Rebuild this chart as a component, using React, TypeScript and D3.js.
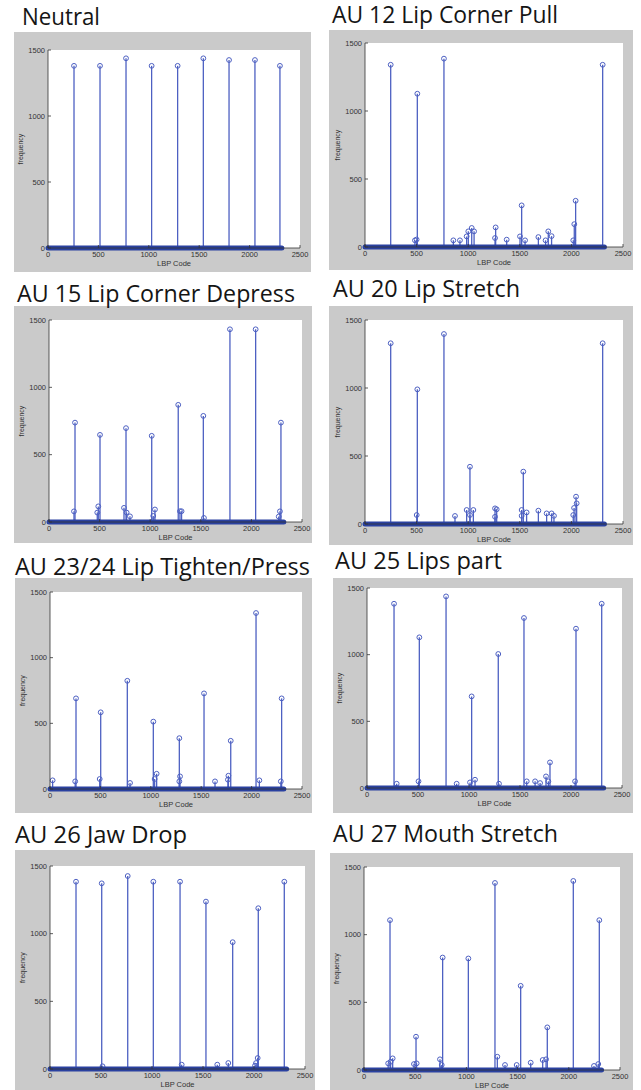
import React from "react";
import * as d3 from "d3";

// stems: [LBP code, frequency]
const neutralStems: [number, number][] = [
  [258, 1380], [516, 1380], [774, 1437], [1028, 1380], [1286, 1380],
  [1541, 1437], [1796, 1424], [2053, 1424], [2301, 1380],
];

const au12Stems: [number, number][] = [
  [249, 1340], [507, 1127], [765, 1385], [2303, 1340], [1518, 306],
  [2041, 340], [2028, 168], [484, 49], [500, 55], [856, 49], [920, 49],
  [985, 78], [1001, 115], [1034, 140], [1057, 115], [1266, 144], [1260, 66],
  [1373, 54], [1502, 78], [1551, 49], [1680, 73], [1750, 49], [1776, 115],
  [1808, 80], [2018, 49],
];

const au15Stems: [number, number][] = [
  [257, 738], [504, 647], [761, 697], [1015, 640], [1277, 870],
  [1525, 788], [1788, 1431], [2042, 1431], [2292, 738], [247, 79],
  [487, 116], [477, 70], [741, 105], [767, 70], [800, 42], [1047, 93],
  [1030, 45], [1294, 80], [1310, 80], [1531, 30], [2282, 79], [2270, 40],
];

const au20Stems: [number, number][] = [
  [249, 1329], [507, 990], [765, 1397], [1017, 421], [1534, 385],
  [2303, 1329], [2045, 201], [2051, 152], [2026, 118], [501, 66], [872, 59],
  [985, 103], [1050, 103], [1017, 66], [1260, 115], [1276, 108], [1260, 53],
  [1518, 103], [1566, 85], [1518, 60], [1680, 98], [1760, 78], [1808, 78],
  [1831, 60], [2018, 66],
];

const au2324Stems: [number, number][] = [
  [258, 690], [503, 584], [767, 824], [1025, 513], [1283, 387],
  [1528, 728], [1793, 367], [2044, 1340], [2298, 690], [26, 66], [250, 58],
  [493, 76], [1058, 116], [1038, 76], [1290, 96], [1283, 58], [1770, 101],
  [1765, 71], [1637, 58], [2077, 66], [2290, 58], [794, 46],
];

const au25Stems: [number, number][] = [
  [265, 1382], [513, 1130], [775, 1437], [1026, 687], [1287, 1005],
  [1539, 1275], [1794, 192], [2049, 1195], [2301, 1382], [291, 32],
  [505, 50], [879, 32], [1010, 42], [1059, 62], [1294, 32], [1566, 50],
  [1648, 50], [1697, 37], [1755, 87], [1778, 50], [2040, 50],
];

const au26Stems: [number, number][] = [
  [255, 1384], [507, 1372], [762, 1426], [1013, 1384], [1275, 1384],
  [1529, 1237], [1791, 937], [2042, 1188], [2297, 1384], [2036, 81],
  [2020, 44], [2010, 25], [1640, 32], [1748, 44], [1291, 32], [515, 20],
];

const au27Stems: [number, number][] = [
  [254, 1107], [508, 246], [768, 831], [1019, 824], [1279, 1382],
  [1530, 622], [1790, 315], [2044, 1397], [2298, 1107], [280, 86],
  [236, 49], [260, 61], [742, 79], [759, 37], [1302, 98], [1377, 37],
  [1491, 37], [1628, 54], [1745, 74], [1778, 79], [2288, 44], [2246, 30],
  [488, 44], [514, 49],
];

const titles = [
  "Neutral", "AU 12 Lip Corner Pull", "AU 15 Lip Corner Depress", "AU 20 Lip Stretch",
  "AU 23/24 Lip Tighten/Press", "AU 25 Lips part", "AU 26 Jaw Drop", "AU 27 Mouth Stretch",
];
const allStems = [neutralStems, au12Stems, au15Stems, au20Stems, au2324Stems, au25Stems, au26Stems, au27Stems];

// every histogram has ~2320 codes packed near zero
const codeExtent = [0, 2320];
const xTicks = [0, 500, 1000, 1500, 2000, 2500];
const yTicks = [0, 500, 1000, 1500];

// panel geometry: grey frame, axes box, title anchor
const layouts = [
  { frame: [14, 32, 297, 240], plot: [48, 50, 300, 248], title: [22, 25, 78] },
  { frame: [329, 30, 304, 240], plot: [365, 43, 623, 247], title: [332, 23, 226] },
  { frame: [14, 306, 298, 237], plot: [49, 320, 302, 522], title: [17, 302, 278] },
  { frame: [329, 306, 304, 239], plot: [365, 320, 623, 524], title: [333, 297, 187] },
  { frame: [15, 578, 297, 235], plot: [50, 592, 302, 789], title: [15, 575, 295] },
  { frame: [333, 578, 300, 235], plot: [367, 588, 622, 788], title: [335, 569, 167] },
  { frame: [15, 850, 300, 240], plot: [50, 866, 305, 1069], title: [15, 843, 172] },
  { frame: [330, 853, 303, 237], plot: [364, 867, 620, 1070], title: [333, 842, 225] },
];

const stemColor = "#4d60c2";
const bandColor = "#2a41a0";
const axisFont = "'Liberation Sans', Arial, sans-serif";

const Panel = ({ stems, title, layout }) => {
  const [fx, fy, fw, fh] = layout.frame;
  const [l, t, r, b] = layout.plot;
  const [tx, ty, tl] = layout.title;

  const x = d3.scaleLinear().domain([0, 2500]).range([l, r]);
  const y = d3.scaleLinear().domain([0, 1500]).range([b, t]);

  return (
    <g>
      <rect x={fx} y={fy} width={fw} height={fh} fill="#cacaca" />
      <rect x={l} y={t} width={r - l} height={b - t} fill="#fff" />
      <text
        x={tx}
        y={ty}
        fontFamily="'Open Sans', 'Noto Sans', sans-serif"
        fontSize={24}
        fill="#151515"
        textLength={tl}
        lengthAdjust="spacingAndGlyphs"
      >
        {title}
      </text>

      {stems.map(([c, v], i) => (
        <g key={i}>
          <line x1={x(c)} x2={x(c)} y1={y(0)} y2={y(v)} stroke={stemColor} strokeWidth={1.3} />
          <circle cx={x(c)} cy={y(v)} r={2.4} fill="none" stroke={stemColor} strokeWidth={1} />
        </g>
      ))}

      <line
        x1={x(codeExtent[0])}
        x2={x(codeExtent[1])}
        y1={y(0)}
        y2={y(0)}
        stroke={bandColor}
        strokeWidth={5}
        strokeLinecap="round"
      />

      <line x1={l} x2={l} y1={t} y2={b} stroke="#333" strokeWidth={0.8} />
      <line x1={l} x2={r} y1={b} y2={b} stroke="#333" strokeWidth={0.8} />
      {xTicks.map((v) => (
        <g key={"x" + v}>
          <line x1={x(v)} x2={x(v)} y1={b} y2={b - 3} stroke="#333" strokeWidth={0.8} />
          <text x={x(v)} y={b + 9} textAnchor="middle" fontFamily={axisFont} fontSize={7.5} fill="#333">
            {v}
          </text>
        </g>
      ))}
      {yTicks.map((v) => (
        <g key={"y" + v}>
          <line x1={l} x2={l + 3} y1={y(v)} y2={y(v)} stroke="#333" strokeWidth={0.8} />
          <text x={l - 3} y={y(v) + 2.5} textAnchor="end" fontFamily={axisFont} fontSize={7.5} fill="#333">
            {v}
          </text>
        </g>
      ))}
      <text x={(l + r) / 2} y={b + 17.5} textAnchor="middle" fontFamily={axisFont} fontSize={7.5} fill="#333">
        LBP Code
      </text>
      <text
        transform={`translate(${l - 25},${(t + b) / 2}) rotate(-90)`}
        textAnchor="middle"
        fontFamily={axisFont}
        fontSize={7}
        fill="#333"
      >
        frequency
      </text>
    </g>
  );
};

export default function App() {
  return (
    <svg width={641} height={1090} style={{ position: "absolute", left: 0, top: 0, background: "#fff" }}>
      {allStems.map((s, i) => (
        <Panel key={i} stems={s} title={titles[i]} layout={layouts[i]} />
      ))}
    </svg>
  );
}
